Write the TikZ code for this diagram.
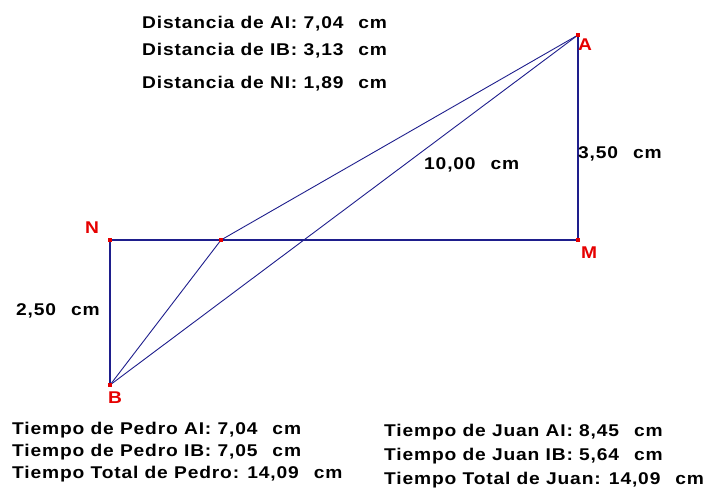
\documentclass[tikz,border=0pt]{standalone}
\usepackage{fontspec}
\setmainfont{Liberation Sans}[FakeStretch=1.13,LetterSpace=5]
\definecolor{ln}{RGB}{30,30,140}
\definecolor{pt}{RGB}{230,0,0}
\newcommand{\gp}{\hspace{15pt}}
\begin{document}
\begin{tikzpicture}[x=1pt,y=-1pt,
  seg/.style={draw=ln,line width=1.1pt},
  diag/.style={draw=ln,line width=0.9pt},
  txt/.style={anchor=base west,inner sep=0pt,font=\bfseries\fontsize{17}{18}\selectfont},
  plabel/.style={inner sep=0pt,text=pt,font=\bfseries\fontsize{17}{18}\selectfont},
  dot/.style={fill=pt,minimum size=3.5pt,inner sep=0pt}]
\useasboundingbox (0,0) rectangle (713,491);
\coordinate (A) at (578,35);
\coordinate (M) at (578,240);
\coordinate (N) at (110,240);
\coordinate (B) at (110,385);
\coordinate (I) at (221,240);
\draw[seg] (A) -- (M);
\draw[seg] (N) -- (M);
\draw[seg] (N) -- (B);
\draw[diag] (B) -- (I);
\draw[diag] (I) -- (A);
\draw[diag] (B) -- (A);
\foreach \p in {A,M,N,B,I} \node[dot] (d\p) at (\p) {};
\node[plabel] (lA) at (585,45) {A};
\node[plabel] (lM) at (589,253) {M};
\node[plabel] (lN) at (92,228) {N};
\node[plabel] (lB) at (115,398) {B};
\node[txt] (t1) at (142,28) {Distancia de AI: 7,04\gp cm};
\node[txt] (t2) at (142,55) {Distancia de IB: 3,13\gp cm};
\node[txt] (t3) at (142,88) {Distancia de NI: 1,89\gp cm};
\node[txt] (t4) at (424,169) {10,00\gp cm};
\node[txt] (t5) at (578,158) {3,50\gp cm};
\node[txt] (t6) at (16,315) {2,50\gp cm};
\node[txt] (p1) at (12,434) {Tiempo de Pedro AI: 7,04\gp cm};
\node[txt] (p2) at (12,456) {Tiempo de Pedro IB: 7,05\gp cm};
\node[txt] (p3) at (12,478) {Tiempo Total de Pedro: 14,09\gp cm};
\node[txt] (j1) at (384,436) {Tiempo de Juan AI: 8,45\gp cm};
\node[txt] (j2) at (384,460) {Tiempo de Juan IB: 5,64\gp cm};
\node[txt] (j3) at (384,484) {Tiempo Total de Juan: 14,09\gp cm};
\end{tikzpicture}
\end{document}
